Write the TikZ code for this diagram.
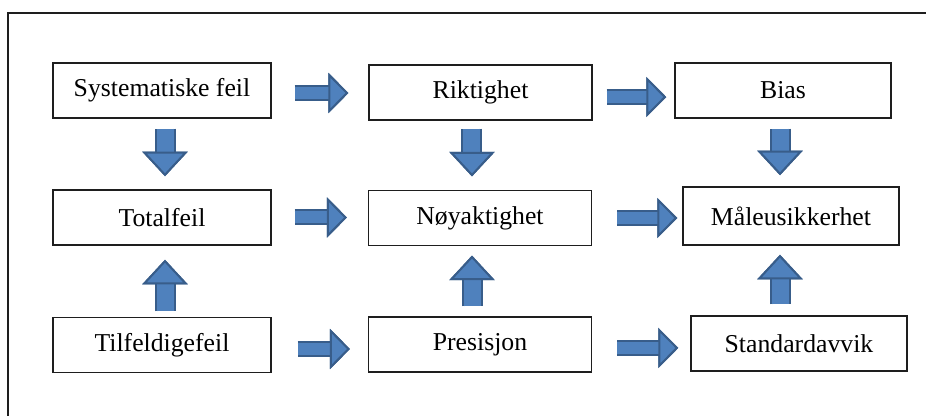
\documentclass[tikz,border=0pt]{standalone}
\usepackage{fontspec}
\setmainfont{Liberation Serif}
\usetikzlibrary{arrows.meta}
\definecolor{arrowfill}{RGB}{79,129,189}
\definecolor{arrowedge}{RGB}{56,93,138}
\definecolor{boxline}{RGB}{30,30,30}
\tikzset{every picture/.style={line width=0.75pt}}
\tikzset{
  termbox/.style={draw=boxline, line width=1.1pt, fill=white, minimum width=163.5pt, minimum height=41.25pt, inner sep=0pt, font=\fontsize{19.3}{23}\selectfont},
  harrow/.style={draw=arrowfill, line width=9pt, preaction={draw=arrowedge, line width=12pt}, -{Triangle[width=30pt, length=15pt, fill=arrowfill, color=arrowedge, line width=1.5pt]}},
  varrow/.style={draw=arrowfill, line width=12.75pt, preaction={draw=arrowedge, line width=15.75pt}, -{Triangle[width=34pt, length=18.5pt, fill=arrowfill, color=arrowedge, line width=1.5pt]}}
}

\begin{document}
\begin{tikzpicture}[x=0.75pt,y=0.75pt,yscale=-1,xscale=1]
\useasboundingbox (0,0) rectangle (926,416);

%Frame
\draw [draw=boxline, line width=1.1pt] (8,416) -- (8,13) -- (926,13) ;

%Boxes, first row
\node [termbox] (sys) at (162,90.5) {Systematiske feil};
\node [termbox, minimum width=167pt] (rik) at (480.5,92.5) {Riktighet};
\node [termbox, minimum width=162pt] (bias) at (783,90.5) {Bias};
%Boxes, second row
\node [termbox] (total) at (162,217.5) {Totalfeil};
\node [termbox, minimum width=167pt] (noy) at (480,218) {Nøyaktighet};
\node [termbox, minimum width=162pt, minimum height=43.5pt] (maal) at (791,216) {Måleusikkerhet};
%Boxes, third row
\node [termbox] (tilf) at (162,345) {Tilfeldigefeil};
\node [termbox, minimum width=167pt] (pres) at (480,344.5) {Presisjon};
\node [termbox, minimum width=162pt] (std) at (799,343.5) {Standardavvik};

%Horizontal arrows
\draw [harrow, shorten <=17.25pt, shorten >=15pt] ([yshift=1.9pt]sys.east) -- ([yshift=1.9pt]sys.east -| rik.west) ;
\draw [harrow, shorten <=10.5pt, shorten >=6pt] ([yshift=3.4pt]rik.east) -- ([yshift=3.4pt]rik.east -| bias.west) ;
\draw [harrow, shorten <=17.25pt, shorten >=15.75pt] (total.east) -- (total.east -| noy.west) ;
\draw [harrow, shorten <=18.75pt, shorten >=3.75pt] (noy.east) -- (noy.east -| maal.west) ;
\draw [harrow, shorten <=19.5pt, shorten >=13.5pt] ([yshift=3pt]tilf.east) -- ([yshift=3pt]tilf.east -| pres.west) ;
\draw [harrow, shorten <=18.75pt, shorten >=9pt] ([yshift=2.6pt]pres.east) -- ([yshift=2.6pt]pres.east -| std.west) ;

%Vertical arrows, downwards
\draw [varrow, shorten <=7.5pt, shorten >=9.75pt] ([xshift=2.25pt]sys.south) -- ([xshift=2.25pt]sys.south |- total.north) ;
\draw [varrow, shorten <=6pt, shorten >=10pt] ([xshift=-6.4pt]rik.south) -- ([xshift=-6.4pt]rik.south |- noy.north) ;
\draw [varrow, shorten <=7.5pt, shorten >=8.25pt] ([xshift=-2.25pt]bias.south) -- ([xshift=-2.25pt]bias.south |- maal.north) ;
%Vertical arrows, upwards
\draw [varrow, shorten <=4pt, shorten >=10.5pt] ([xshift=2.25pt]tilf.north) -- ([xshift=2.25pt]tilf.north |- total.south) ;
\draw [varrow, shorten <=7.5pt, shorten >=7pt] ([xshift=-6pt]pres.north) -- ([xshift=-6pt]pres.north |- noy.south) ;
\draw [varrow, shorten <=8.25pt, shorten >=6.75pt] ([xshift=-14.25pt]std.north) -- ([xshift=-14.25pt]std.north |- maal.south) ;

\end{tikzpicture}
\end{document}
